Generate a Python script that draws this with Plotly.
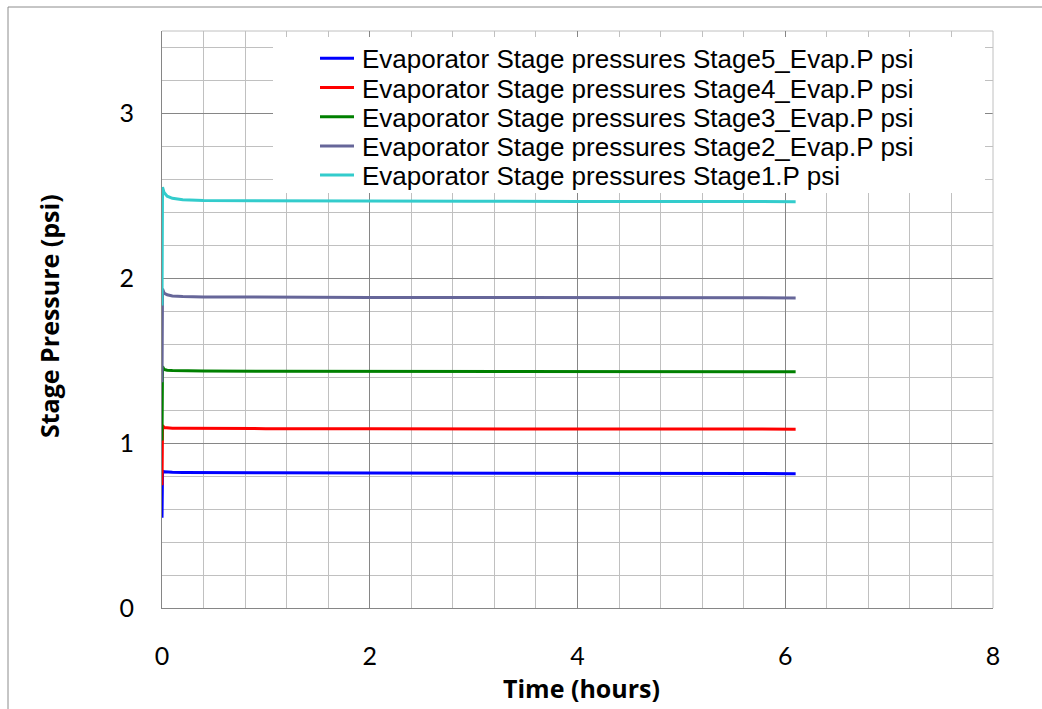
import plotly.graph_objects as go

# ---------------- data ----------------
time_h = [0, 0.005, 0.02, 0.05, 0.1, 0.2, 0.4, 1.0, 2.0, 3.0, 4.0, 5.0, 6.1]

stage5 = [0.548, 0.830, 0.826, 0.824, 0.823, 0.822, 0.821, 0.820, 0.819, 0.818, 0.817, 0.816, 0.815]
stage4 = [0.744, 1.107, 1.095, 1.092, 1.091, 1.090, 1.089, 1.088, 1.087, 1.086, 1.086, 1.085, 1.085]
stage3 = [1.016, 1.465, 1.447, 1.442, 1.440, 1.438, 1.437, 1.436, 1.435, 1.434, 1.434, 1.433, 1.433]
stage2 = [1.370, 1.936, 1.910, 1.900, 1.893, 1.889, 1.887, 1.885, 1.884, 1.883, 1.882, 1.882, 1.881]
stage1 = [1.835, 2.553, 2.520, 2.498, 2.485, 2.477, 2.472, 2.470, 2.468, 2.467, 2.466, 2.466, 2.465]

series_names = [
    "Evaporator Stage pressures Stage5_Evap.P psi",
    "Evaporator Stage pressures Stage4_Evap.P psi",
    "Evaporator Stage pressures Stage3_Evap.P psi",
    "Evaporator Stage pressures Stage2_Evap.P psi",
    "Evaporator Stage pressures Stage1.P psi",
]
series_values = [stage5, stage4, stage3, stage2, stage1]
series_colors = ["#0000FF", "#FF0000", "#008000", "#666699", "#33CCCC"]

x_ticks = [0, 2, 4, 6, 8]
y_ticks = [0, 1, 2, 3]

# ---------------- geometry (pixels) ----------------
W, H = 1042, 709
ML, MR, MT, MB = 162, 49, 31, 101
PW, PH = W - ML - MR, H - MT - MB


def px(x):
    return (x - ML) / PW


def py(y):
    return (H - MB - y) / PH


TICK_FONT = "Lato"
TITLE_FONT = "Open Sans"
LEGEND_FONT = "Liberation Sans"

fig = go.Figure()
for name, vals, col in zip(series_names, series_values, series_colors):
    fig.add_trace(go.Scatter(
        x=time_h, y=vals, mode="lines", name=name,
        line=dict(color=col, width=3), showlegend=False,
    ))

shapes = []
annotations = []

# outer chart frame (left + top edges visible)
shapes.append(dict(type="line", xref="paper", yref="paper",
                   x0=px(8), x1=px(1060), y0=py(7), y1=py(7),
                   line=dict(color="#8C8C8C", width=1), layer="above"))
shapes.append(dict(type="line", xref="paper", yref="paper",
                   x0=px(8), x1=px(8), y0=py(7), y1=py(720),
                   line=dict(color="#8C8C8C", width=1), layer="above"))
# top and right borders of plot area (light)
shapes.append(dict(type="line", xref="paper", yref="paper",
                   x0=0, x1=1, y0=1, y1=1,
                   line=dict(color="#C0C0C0", width=1), layer="below"))
shapes.append(dict(type="line", xref="paper", yref="paper",
                   x0=1, x1=1, y0=0, y1=1,
                   line=dict(color="#C0C0C0", width=1), layer="above"))

# legend box (white background over grid)
shapes.append(dict(type="rect", xref="paper", yref="paper",
                   x0=px(273), x1=px(985), y0=py(193), y1=py(37),
                   fillcolor="white", line=dict(width=0), layer="above"))
row_y = [57.8, 87.0, 116.2, 145.4, 174.6]
for name, col, ry in zip(series_names, series_colors, row_y):
    shapes.append(dict(type="line", xref="paper", yref="paper",
                       x0=px(320), x1=px(354), y0=py(ry + 0.5), y1=py(ry + 0.5),
                       line=dict(color=col, width=3), layer="above"))
    annotations.append(dict(text=name, xref="paper", yref="paper",
                            x=px(361), y=py(ry + 1.5), xanchor="left", yanchor="middle",
                            showarrow=False, borderpad=0,
                            font=dict(family=LEGEND_FONT, size=26, color="black")))

# axis titles
annotations.append(dict(text="<b>Time (hours)</b>", xref="paper", yref="paper",
                        x=px(581), y=py(688), xanchor="center", yanchor="middle",
                        showarrow=False, font=dict(family=TITLE_FONT, size=25, color="black")))
annotations.append(dict(text="<b>Stage Pressure (psi)</b>", xref="paper", yref="paper",
                        x=px(49), y=py(316), xanchor="center", yanchor="middle", textangle=-90,
                        showarrow=False, font=dict(family=TITLE_FONT, size=25, color="black")))

fig.update_layout(
    width=W, height=H,
    margin=dict(l=ML, r=MR, t=MT, b=MB),
    paper_bgcolor="white", plot_bgcolor="white",
    showlegend=False,
    shapes=shapes, annotations=annotations,
    font=dict(family=TICK_FONT, color="black"),
)
fig.update_xaxes(
    range=[0, 8], tickvals=x_ticks, ticktext=[str(v) for v in x_ticks],
    showgrid=True, gridcolor="#868686", gridwidth=1,
    minor=dict(dtick=0.4, tick0=0, showgrid=True, gridcolor="#C0C0C0", gridwidth=1),
    showline=True, linecolor="#868686", linewidth=1,
    zeroline=False, ticks="", ticklabelstandoff=26,
    tickfont=dict(family=TICK_FONT, size=25, color="black"),
)
fig.update_yaxes(
    range=[0, 3.5], tickvals=y_ticks, ticktext=[str(v) for v in y_ticks],
    showgrid=True, gridcolor="#868686", gridwidth=1,
    minor=dict(dtick=0.2, tick0=0, showgrid=True, gridcolor="#C0C0C0", gridwidth=1),
    showline=True, linecolor="#868686", linewidth=1,
    zeroline=False, ticks="", ticklabelstandoff=22,
    tickfont=dict(family=TICK_FONT, size=25, color="black"),
)

fig.write_html("out.html")
